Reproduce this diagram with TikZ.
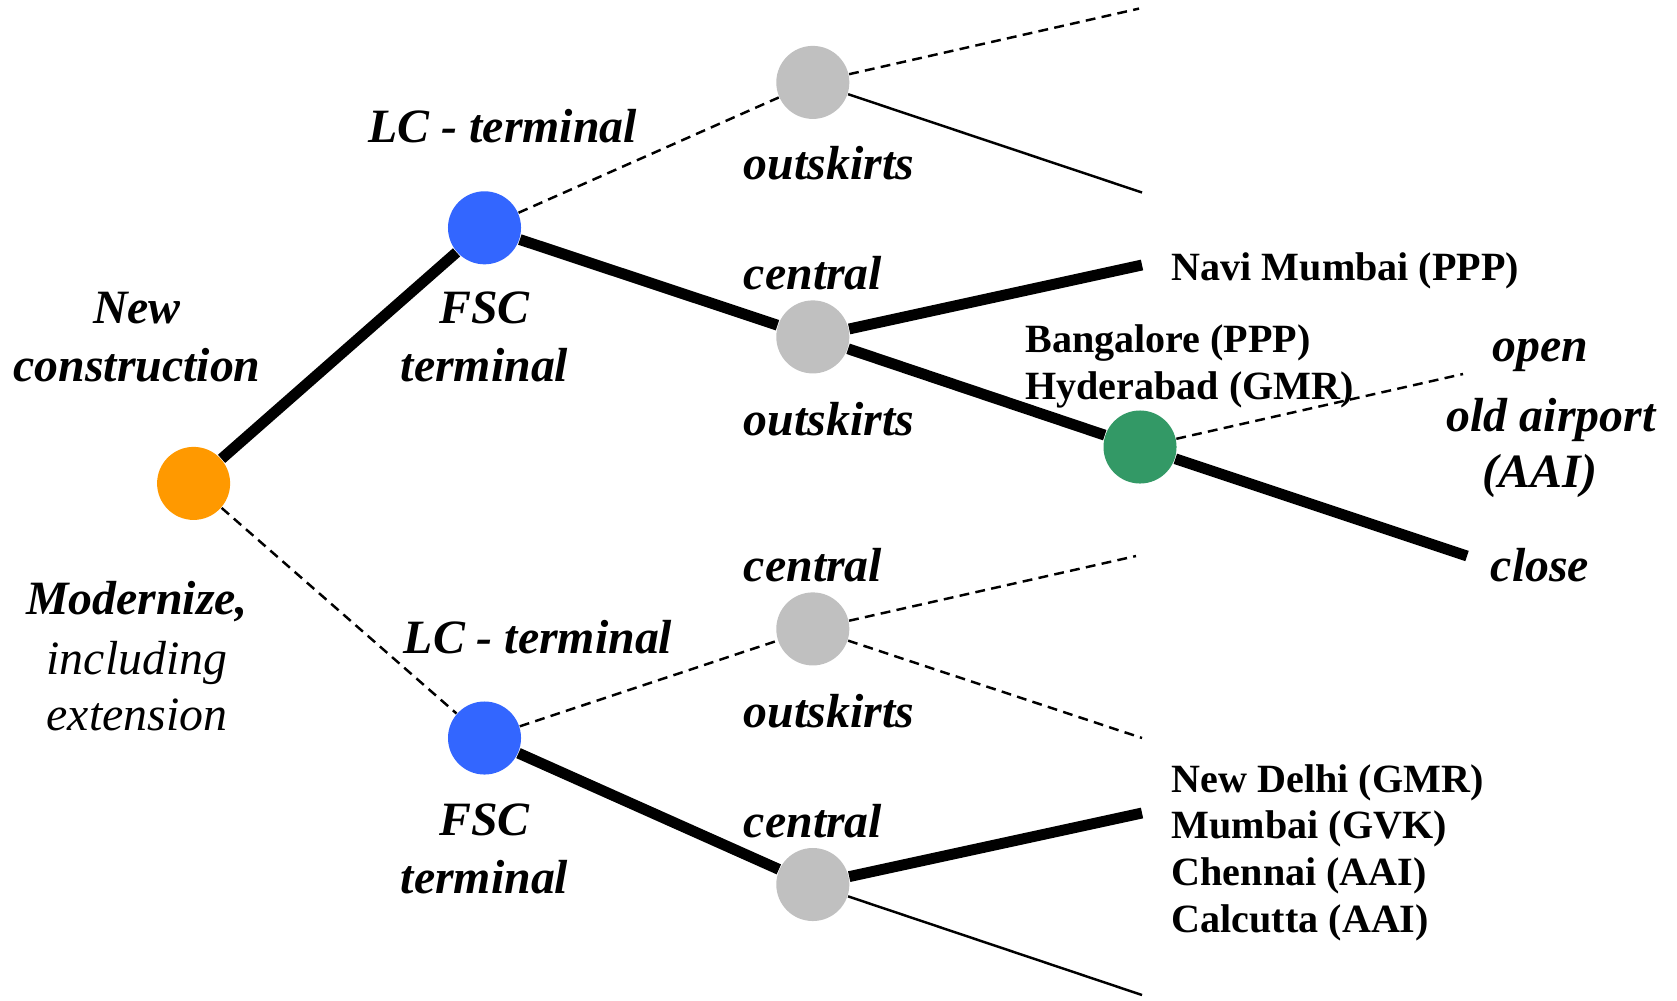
\documentclass[tikz,border=0pt]{standalone}
\usepackage{fontspec}
\setmainfont{Liberation Serif}
\definecolor{corange}{HTML}{FF9900}
\definecolor{cblue}{HTML}{3366FF}
\definecolor{cgray}{HTML}{C0C0C0}
\definecolor{cgreen}{HTML}{339966}
\begin{document}
\begin{tikzpicture}[x=0.01cm,y=-0.01cm,
  dot/.style={circle,minimum size=0.73cm,inner sep=0pt},
  thick line/.style={line width=3.1pt},
  thin line/.style={line width=0.7pt},
  dash line/.style={line width=0.7pt,dash pattern=on 2.8pt off 1.8pt},
  lab/.style={font=\bfseries\itshape\fontsize{13.6}{16.5}\selectfont,inner sep=0pt,align=center},
  ilab/.style={font=\itshape\fontsize{13.6}{16}\selectfont,inner sep=0pt,align=center},
  city/.style={font=\bfseries\fontsize{11.4}{13.3}\selectfont,inner sep=0pt,align=left,anchor=west}]
\useasboundingbox (0,0) rectangle (1677,1000);
% nodes
\node[dot,fill=corange] (O) at (193.6,483.4) {};
\node[dot,fill=cblue] (B1) at (484.5,227.8) {};
\node[dot,fill=cblue] (B2) at (484.5,738) {};
\node[dot,fill=cgray] (G1) at (812.8,82.4) {};
\node[dot,fill=cgray] (G2) at (812.8,336.9) {};
\node[dot,fill=cgray] (G3) at (812.8,628.9) {};
\node[dot,fill=cgray] (G4) at (812.8,884.5) {};
\node[dot,fill=cgreen] (GR) at (1140,447) {};
% free ends
\coordinate (e1) at (1139,8.6);
\coordinate (e2) at (1142,192.5);
\coordinate (e3) at (1142,265);
\coordinate (e4) at (1467,556);
\coordinate (e5) at (1463,374);
\coordinate (e6) at (1136,556);
\coordinate (e7) at (1142,738);
\coordinate (e8) at (1142,813);
\coordinate (e9) at (1142,995);
% connectors
\draw[thick line] (O) -- (B1);
\draw[dash line] (O) -- (B2);
\draw[dash line] (B1) -- (G1);
\draw[thick line] (B1) -- (G2);
\draw[dash line] (B2) -- (G3);
\draw[thick line] (B2) -- (G4);
\draw[dash line] (G1) -- (e1);
\draw[thin line] (G1) -- (e2);
\draw[thick line] (G2) -- (e3);
\draw[thick line] (G2) -- (GR);
\draw[thick line] (GR) -- (e4);
\draw[dash line] (GR) -- (e5);
\draw[dash line] (G3) -- (e6);
\draw[dash line] (G3) -- (e7);
\draw[thick line] (G4) -- (e8);
\draw[thin line] (G4) -- (e9);
% labels
\node[lab] (tNew) at (137,337.5) {New\\construction};
\node[lab] (tMod) at (137,602) {Modernize,};
\node[ilab] (tInc) at (137,686) {including\\extension};
\node[lab] (tLC1) at (502.7,126) {LC - terminal};
\node[lab] (tFSC1) at (484.5,337) {FSC\\terminal};
\node[lab] (tLC2) at (538,637) {LC - terminal};
\node[lab] (tFSC2) at (484.5,848.5) {FSC\\terminal};
\node[lab] (tO1) at (829,163) {outskirts};
\node[lab] (tC1) at (813,273) {central};
\node[lab] (tO2) at (829,419) {outskirts};
\node[lab] (tC2) at (813,565) {central};
\node[lab] (tO3) at (829,711) {outskirts};
\node[lab] (tC3) at (813,821) {central};
\node[lab] (tOpen) at (1540,355) {open};
\node[lab] (tOld) at (1551,420) {old airport};
\node[lab] (tAAI) at (1540,476) {(AAI)};
\node[lab] (tClose) at (1540,565) {close};
\node[city] (tNavi) at (1171,271) {Navi Mumbai (PPP)};
\node[city] (tBan) at (1024.6,366.5) {Bangalore (PPP)\\Hyderabad (GMR)};
\node[city] (tDel) at (1171,852.5) {New Delhi (GMR)\\Mumbai (GVK)\\Chennai (AAI)\\Calcutta (AAI)};
\end{tikzpicture}
\end{document}
